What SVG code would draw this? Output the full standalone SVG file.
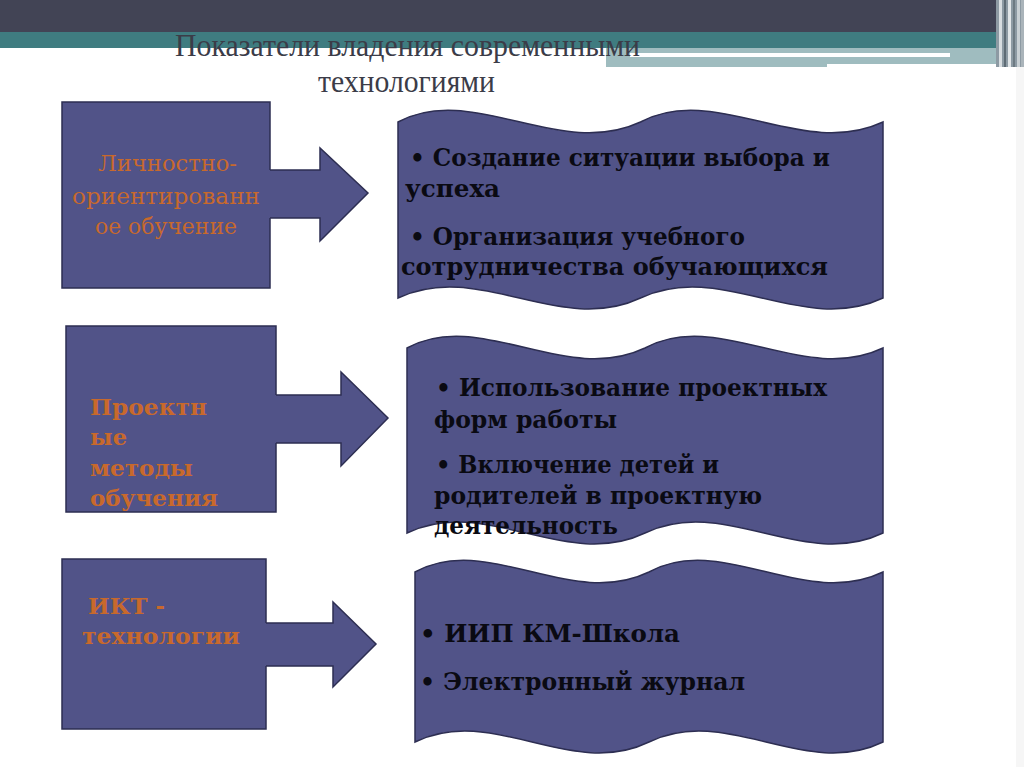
<svg xmlns="http://www.w3.org/2000/svg" width="1024" height="767" viewBox="0 0 1024 767">
<style>
.shape{fill:#515388;stroke:#2d2e52;stroke-width:1.5}
.fillonly{fill:#515388;stroke:none}
.edge{fill:none;stroke:#2d2e52;stroke-width:1.5;stroke-linejoin:miter}
.title{font-family:"Liberation Serif","DejaVu Serif",serif;font-size:31px;fill:#3b3c48}
.lbl{font-family:"DejaVu Serif","Liberation Serif",serif;font-size:23px;fill:#c8692c}
.lblb{font-family:"DejaVu Serif","Liberation Serif",serif;font-size:23px;font-weight:bold;fill:#c8692c}
.item{font-family:"DejaVu Serif","Liberation Serif",serif;font-size:24px;font-weight:bold;fill:#0a0a12}
</style>
<rect x="0" y="0" width="1024" height="767" fill="#ffffff"/>
<g id="header">
<rect x="0" y="0" width="1024" height="33" fill="#424455"/>
<rect x="0" y="32" width="1000" height="16" fill="#3f7c80"/>
<rect x="606" y="48" width="394" height="19" fill="#9fbcbf"/>
<rect x="630" y="53" width="320" height="4" fill="#ffffff"/>
<rect x="827" y="64" width="180" height="3" fill="#ffffff"/>
<rect x="996" y="0" width="28" height="67" fill="#8d9aa3"/>
<rect x="999" y="0" width="3" height="67" fill="#d8dde0"/>
<rect x="1004" y="0" width="2" height="67" fill="#5e6b74"/>
<rect x="1008" y="0" width="3" height="67" fill="#e2e6e8"/>
<rect x="1013" y="0" width="2" height="67" fill="#6d7a82"/>
<rect x="1017" y="0" width="3" height="67" fill="#c9d0d4"/>
<rect x="1021" y="0" width="3" height="67" fill="#aab4ba"/>
<rect x="1016" y="67" width="8" height="700" fill="#f6f6f6"/>
<text class="title" x="175" y="56" textLength="465" lengthAdjust="spacingAndGlyphs">Показатели владения современными</text>
<text class="title" x="318" y="92" textLength="177" lengthAdjust="spacingAndGlyphs">технологиями</text>
</g>
<g id="node-lichnostno">
<rect class="shape" x="62" y="102" width="208" height="186"/>
<text class="lbl" x="98" y="171" textLength="139" lengthAdjust="spacingAndGlyphs">Личностно-</text>
<text class="lbl" x="72" y="204" textLength="188" lengthAdjust="spacingAndGlyphs">ориентированн</text>
<text class="lbl" x="95" y="234" textLength="142" lengthAdjust="spacingAndGlyphs">ое обучение</text>
</g>
<g id="node-proektnye">
<rect class="shape" x="66" y="326" width="210" height="186"/>
<text class="lblb" x="90" y="415" textLength="117" lengthAdjust="spacingAndGlyphs">Проектн</text>
<text class="lblb" x="90" y="445" textLength="37" lengthAdjust="spacingAndGlyphs">ые</text>
<text class="lblb" x="90" y="476" textLength="103" lengthAdjust="spacingAndGlyphs">методы</text>
<text class="lblb" x="90" y="506" textLength="128" lengthAdjust="spacingAndGlyphs">обучения</text>
</g>
<g id="node-ikt">
<rect class="shape" x="62" y="559" width="204" height="170"/>
<text class="lblb" x="88" y="614" textLength="77" lengthAdjust="spacingAndGlyphs">ИКТ -</text>
<text class="lblb" x="82" y="644" textLength="158" lengthAdjust="spacingAndGlyphs">технологии</text>
</g>
<g id="node-wave1">
<path class="shape" d="M398,122 C472,82 559.7,160 640.5,122 C715,82 802.2,160 883,122 L883,298 C802.2,336 721.3,260 640.5,298 C559.7,336 478.8,260 398,298 Z"/>
<text class="item" x="410" y="166" textLength="420" lengthAdjust="spacingAndGlyphs">• Создание ситуации выбора и</text>
<text class="item" x="405" y="197" textLength="95" lengthAdjust="spacingAndGlyphs">успеха</text>
<text class="item" x="410" y="245" textLength="335" lengthAdjust="spacingAndGlyphs">• Организация учебного</text>
<text class="item" x="401" y="275" textLength="427" lengthAdjust="spacingAndGlyphs">сотрудничества обучающихся</text>
</g>
<g id="node-wave2">
<path class="shape" d="M407,348 C480,308 565.7,386 645,348 C718,308 803.7,386 883,348 L883,533 C803.7,571 724.3,495 645,533 C565.7,571 486.3,495 407,533 Z"/>
<text class="item" x="436" y="396" textLength="391" lengthAdjust="spacingAndGlyphs">• Использование проектных</text>
<text class="item" x="434" y="428" textLength="183" lengthAdjust="spacingAndGlyphs">форм работы</text>
<text class="item" x="436" y="473" textLength="283" lengthAdjust="spacingAndGlyphs">• Включение детей и</text>
<text class="item" x="434" y="504" textLength="328" lengthAdjust="spacingAndGlyphs">родителей в проектную</text>
<text class="item" x="434" y="534" textLength="184" lengthAdjust="spacingAndGlyphs">деятельность</text>
</g>
<g id="node-wave3">
<path class="shape" d="M415,572 C487,532 571,610 649,572 C721,532 805,610 883,572 L883,742 C805,780 727,704 649,742 C571,780 493,704 415,742 Z"/>
<text class="item" x="420" y="642" textLength="260" lengthAdjust="spacingAndGlyphs">• ИИП  КМ-Школа</text>
<text class="item" x="420" y="690" textLength="325" lengthAdjust="spacingAndGlyphs">• Электронный журнал</text>
</g>
<g id="connectors">
<polygon class="fillonly" points="267,170 320,170 320,148 368,193 320,241 320,218 267,218"/>
<polyline class="edge" points="270,170 320,170 320,148 368,193 320,241 320,218 270,218"/>
<polygon class="fillonly" points="273,395 341,395 341,372 388,418 341,466 341,443 273,443"/>
<polyline class="edge" points="276,395 341,395 341,372 388,418 341,466 341,443 276,443"/>
<polygon class="fillonly" points="263,623 333,623 333,602 376,644 333,687 333,666 263,666"/>
<polyline class="edge" points="266,623 333,623 333,602 376,644 333,687 333,666 266,666"/>
</g>
</svg>
